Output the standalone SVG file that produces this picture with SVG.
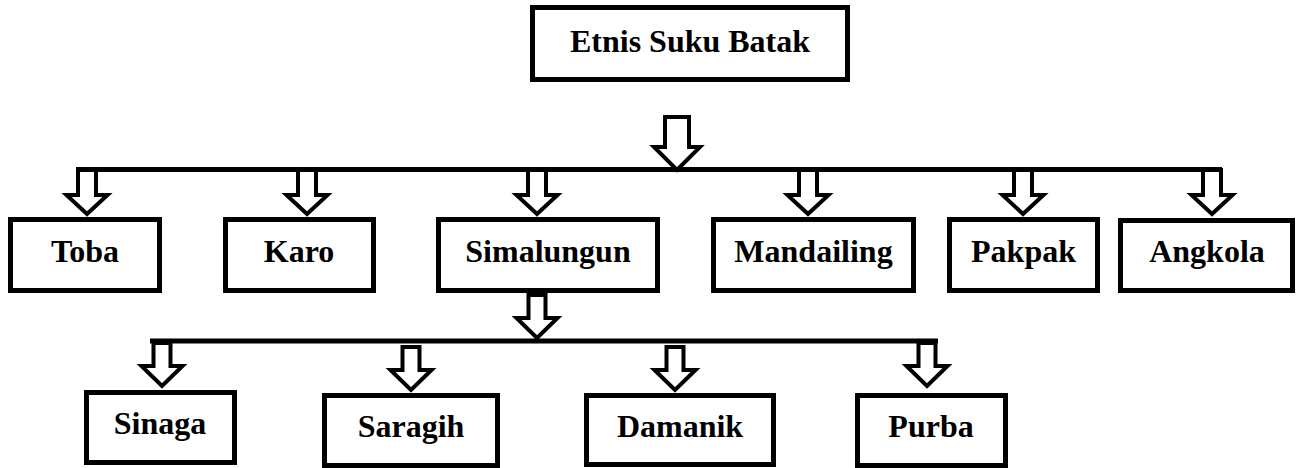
<svg xmlns="http://www.w3.org/2000/svg" width="1296" height="468" viewBox="0 0 1296 468">
<style>
.box{fill:#fff;stroke:#000;stroke-width:5}
.lbl{font-family:"Liberation Serif","Times New Roman",serif;font-weight:bold;font-size:32px;fill:#000;text-anchor:middle}
.arr{fill:#fff;stroke:#000;stroke-width:4;stroke-linejoin:miter}
.bar{stroke:#000;stroke-width:5;fill:none}
.shadow{stroke:#9a9a9a;stroke-width:6;fill:none;opacity:0.55}
</style>
<defs>
<filter id="blur" x="-5%" y="-200%" width="110%" height="500%"><feGaussianBlur stdDeviation="2.5"/></filter>
<path id="a1" d="M-9,0 V25 H-20.5 L0,44 L20.5,25 H9 V0 Z"/>
<path id="a2" d="M-8.5,0 V23 H-20.5 L0,43 L20.5,23 H8.5 V0 Z"/>
<path id="aTop" d="M-12,0 V30 H-23 L0,53 L23,30 H12 V0 Z"/>
</defs>
<g id="connectors">
<line class="shadow" x1="78" y1="176" x2="1222" y2="176" filter="url(#blur)"/>
<line class="shadow" x1="152" y1="348" x2="938" y2="348" filter="url(#blur)"/>
<line class="bar" x1="76" y1="169.5" x2="1222" y2="169.5"/>
<line class="bar" x1="150" y1="341" x2="938" y2="341"/>
<use href="#aTop" class="arr" transform="translate(677,117)"/>
<use href="#a1" class="arr" transform="translate(87,170)"/>
<use href="#a1" class="arr" transform="translate(307,170)"/>
<use href="#a1" class="arr" transform="translate(537,170)"/>
<use href="#a1" class="arr" transform="translate(808,170)"/>
<use href="#a1" class="arr" transform="translate(1023,170)"/>
<use href="#a1" class="arr" transform="translate(1212,170)"/>
<use href="#a2" class="arr" transform="translate(537,295)"/>
<use href="#a2" class="arr" transform="translate(162,343)"/>
<use href="#a2" class="arr" transform="translate(411,347)"/>
<use href="#a2" class="arr" transform="translate(675,347)"/>
<use href="#a2" class="arr" transform="translate(927,343)"/>
</g>
<g id="etnis"><rect class="box" x="532.5" y="7.5" width="315" height="72"/><text class="lbl" x="690" y="52">Etnis Suku Batak</text></g>
<g id="toba"><rect class="box" x="10.5" y="219.5" width="149" height="71"/><text class="lbl" x="85" y="262">Toba</text></g>
<g id="karo"><rect class="box" x="225.5" y="219.5" width="148" height="71"/><text class="lbl" x="299" y="262">Karo</text></g>
<g id="simalungun"><rect class="box" x="438.5" y="219.5" width="219" height="71"/><text class="lbl" x="548" y="262">Simalungun</text></g>
<g id="mandailing"><rect class="box" x="713.5" y="219.5" width="200" height="71"/><text class="lbl" x="813.5" y="262">Mandailing</text></g>
<g id="pakpak"><rect class="box" x="949.5" y="219.5" width="148" height="71"/><text class="lbl" x="1023.5" y="262">Pakpak</text></g>
<g id="angkola"><rect class="box" x="1120.5" y="220.5" width="172" height="70"/><text class="lbl" x="1207" y="262">Angkola</text></g>
<g id="sinaga"><rect class="box" x="86.5" y="392.5" width="148" height="70"/><text class="lbl" x="160" y="434">Sinaga</text></g>
<g id="saragih"><rect class="box" x="324.5" y="395.5" width="173" height="70"/><text class="lbl" x="411" y="437">Saragih</text></g>
<g id="damanik"><rect class="box" x="586.5" y="395.5" width="187" height="69"/><text class="lbl" x="680" y="437">Damanik</text></g>
<g id="purba"><rect class="box" x="857.5" y="395.5" width="148" height="70"/><text class="lbl" x="931" y="437">Purba</text></g>
</svg>
